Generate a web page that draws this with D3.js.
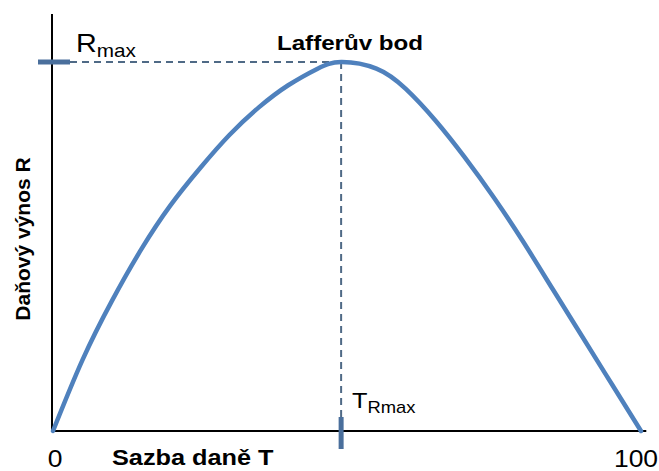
<!DOCTYPE html>
<html>
<head>
<meta charset="utf-8">
<script src="https://cdn.jsdelivr.net/npm/d3@7"></script>
<style>
  html, body { margin: 0; padding: 0; background: #fff; }
  svg { display: block; }
  text { font-family: "Liberation Sans", Arial, sans-serif; }
</style>
</head>
<body>
<div id="chart"></div>
<script>
// Data (tax rate T in %, revenue R as % of R_max)
const taxRate = [0, 5, 10, 15, 20, 25, 30, 35, 40, 45, 49, 55, 60, 65, 70, 75, 80, 85, 90, 95, 100];
const revenue = [0, 19.2, 35.2, 49.2, 61.2, 71.2, 80.2, 87.7, 93.7, 98.2, 100, 98.2, 92.7, 84.2, 74.2, 63.2, 51.2, 38.4, 25.6, 12.8, 0];
const peakT = 49;
const peakR = 100;
const xTickValues = [0, 100];
const xTickLabels = ["0", "100"];
const xTitle = "Sazba daně T";
const yTitle = "Daňový výnos R";
const peakTitle = "Lafferův bod";

const W = 659, H = 471;
const svg = d3.select("#chart").append("svg").attr("width", W).attr("height", H);

const x = d3.scaleLinear().domain([0, 100]).range([53, 641]);
const y = d3.scaleLinear().domain([0, 100]).range([431, 62]);

const curveBlue = "#4f81bd";
const tickBlue = "#4a6f9c";
const dashCol = "#4f6a86";
const sx = 1.15;

// axes
svg.append("line")
  .attr("x1", x(0) - 1).attr("x2", x(0) - 1)
  .attr("y1", y(113)).attr("y2", y(0) + 1)
  .attr("stroke", "#000").attr("stroke-width", 2);
svg.append("line")
  .attr("x1", x(0) - 2).attr("x2", x(100.9))
  .attr("y1", y(0)).attr("y2", y(0))
  .attr("stroke", "#000").attr("stroke-width", 2);

// dashed guides
svg.append("line")
  .attr("x1", 70).attr("x2", x(peakT))
  .attr("y1", y(peakR)).attr("y2", y(peakR))
  .attr("stroke", dashCol).attr("stroke-width", 2)
  .attr("stroke-dasharray", "7,5");
svg.append("line")
  .attr("x1", x(peakT)).attr("x2", x(peakT))
  .attr("y1", y(peakR)).attr("y2", 417)
  .attr("stroke", dashCol).attr("stroke-width", 2)
  .attr("stroke-dasharray", "7,5");

// marker ticks
svg.append("line")
  .attr("x1", 38).attr("x2", 70)
  .attr("y1", y(peakR)).attr("y2", y(peakR))
  .attr("stroke", tickBlue).attr("stroke-width", 5);
svg.append("line")
  .attr("x1", x(peakT)).attr("x2", x(peakT))
  .attr("y1", 417).attr("y2", 449)
  .attr("stroke", tickBlue).attr("stroke-width", 5);

// curve
const pts = taxRate.map((t, i) => [t, revenue[i]]);
const line = d3.line()
  .x(d => x(d[0])).y(d => y(d[1]))
  .curve(d3.curveNatural);
svg.append("path")
  .datum(pts)
  .attr("d", line)
  .attr("fill", "none")
  .attr("stroke", curveBlue)
  .attr("stroke-width", 4.5)
  .attr("stroke-linecap", "round");

// x tick labels
xTickValues.forEach((v, i) => {
  svg.append("text")
    .attr("transform", `translate(${x(v) + (i === 0 ? 2 : -5)},467) scale(${sx},1)`)
    .attr("text-anchor", "middle")
    .attr("font-size", 23)
    .attr("fill", "#000")
    .text(xTickLabels[i]);
});

// x title
svg.append("text")
  .attr("transform", `translate(112,465) scale(${sx},1)`)
  .attr("font-size", 22).attr("font-weight", "bold")
  .text(xTitle);

// y title
svg.append("text")
  .attr("transform", `translate(30,239) rotate(-90)`)
  .attr("text-anchor", "middle")
  .attr("font-size", 21).attr("font-weight", "bold")
  .text(yTitle);

// peak title
svg.append("text")
  .attr("transform", `translate(350,50) scale(${sx},1)`)
  .attr("text-anchor", "middle")
  .attr("font-size", 21).attr("font-weight", "bold")
  .text(peakTitle);

// R_max label
const rl = svg.append("text")
  .attr("transform", `translate(76,52) scale(${sx},1)`)
  .attr("font-size", 25).attr("fill", "#000");
rl.append("tspan").text("R");
rl.append("tspan").attr("font-size", 18).attr("dy", 5).text("max");

// T_Rmax label
const tl = svg.append("text")
  .attr("transform", `translate(352,408) scale(${sx},1)`)
  .attr("font-size", 22).attr("fill", "#000");
tl.append("tspan").text("T");
tl.append("tspan").attr("font-size", 16).attr("dy", 5).text("Rmax");
</script>
</body>
</html>
